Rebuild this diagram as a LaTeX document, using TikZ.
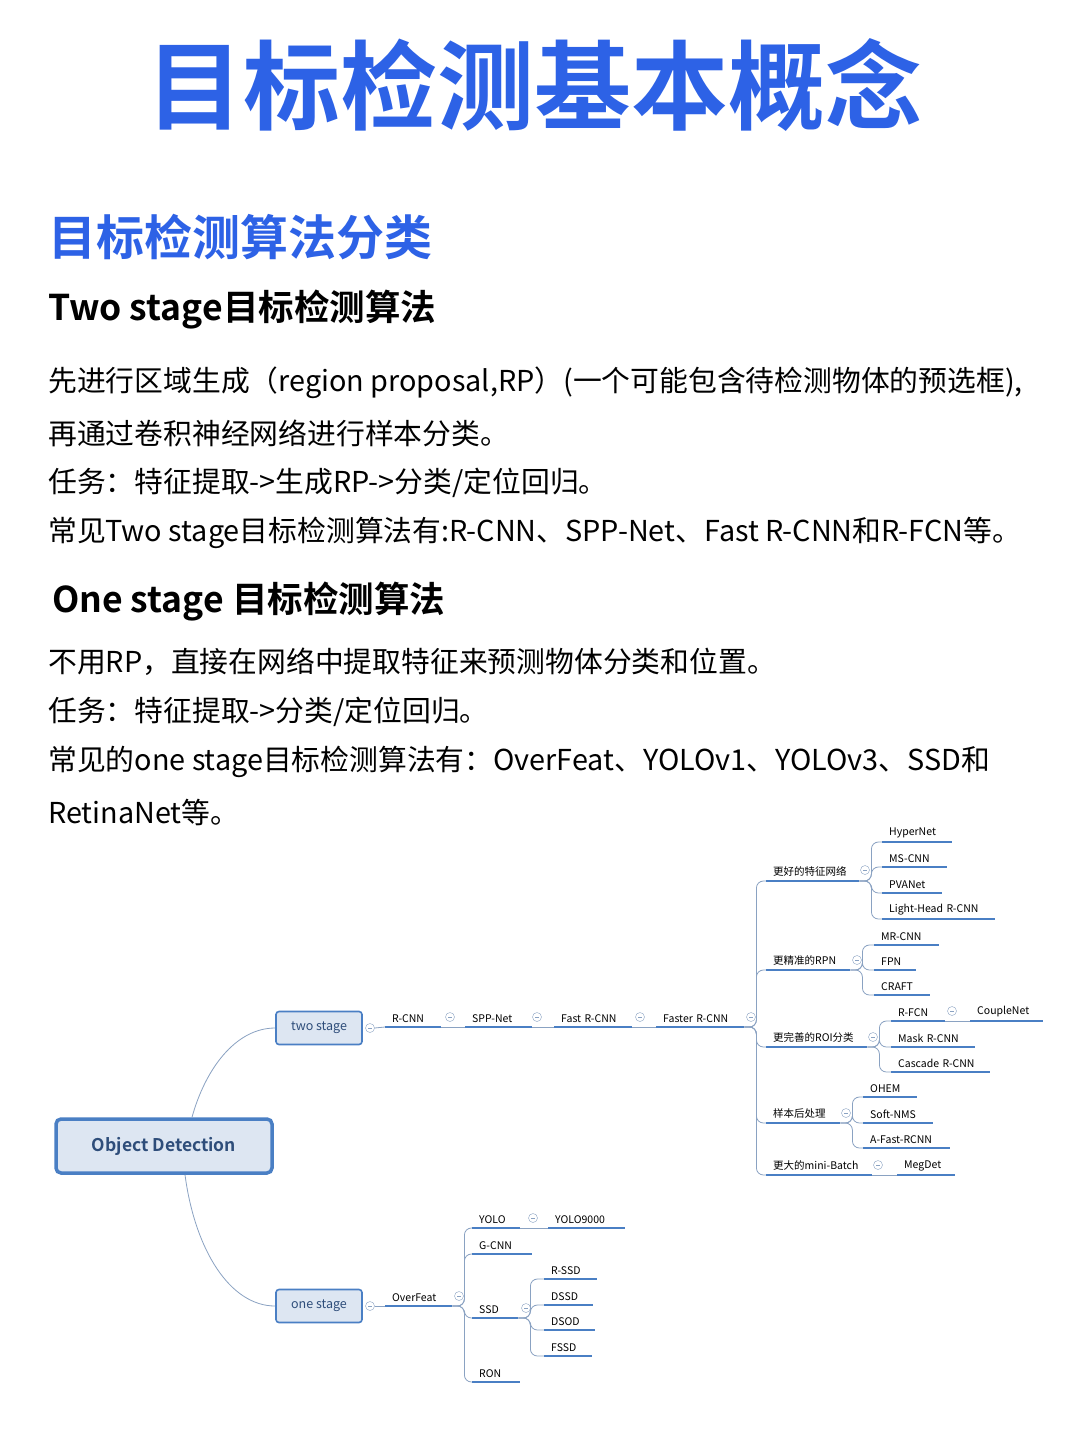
\documentclass[tikz,border=0pt]{standalone}
\usepackage{fontspec}
\setmainfont{Noto Sans CJK SC}[BoldFont={Noto Sans CJK SC Bold}]
\usetikzlibrary{positioning}
\definecolor{titleblue}{HTML}{2D62E6}
\definecolor{ulblue}{HTML}{4A7FC4}
\definecolor{linkgray}{HTML}{8AA2C2}
\definecolor{boxfill}{HTML}{DDE6F2}
\definecolor{rootink}{HTML}{2E4D7A}
\newcommand\fs[1]{\fontsize{#1}{#1}\selectfont}
% mind map item: name, x start, underline y, x end, text
\newcommand\mmitem[5]{%
  \node[item,text width=#4-#2-14] (#1) at (#2,#3) {#5};
  \draw[ul] (#1.south west) -- (#1.south east);}
\begin{document}
\begin{tikzpicture}[x=1pt,y=-1pt]
  \tikzstyle{para}=[anchor=west,inner sep=0pt,font=\fs{28.8}]
  \tikzstyle{item}=[anchor=south west,inner xsep=7pt,inner ysep=4pt,align=left,font=\fs{10.5}]
  \tikzstyle{ul}=[ulblue,line width=2.2pt]
  \tikzstyle{link}=[linkgray,line width=0.8pt,rounded corners=7pt]
  \tikzstyle{fold}=[circle,draw=linkgray,fill=white,minimum size=9pt,inner sep=0pt,
    path picture={\draw[linkgray,line width=0.6pt] ([xshift=-2pt]path picture bounding box.center) -- ([xshift=2pt]path picture bounding box.center);}]
  \tikzstyle{stage}=[draw=ulblue,line width=1.6pt,fill=boxfill,rounded corners=3pt,minimum width=86pt,minimum height=33pt,font=\fs{12.5},text=rootink]
  \useasboundingbox (0,0) rectangle (1080,1440);
  \fill[white] (0,0) rectangle (1080,1440);

  % headings and text
  \node[font=\fs{97}\bfseries,text=titleblue] (title) at (534,85) {目标检测基本概念};
  \node[anchor=west,inner sep=0pt,font=\fs{48}\bfseries,text=titleblue] (sub) at (48,237) {目标检测算法分类};
  \node[anchor=west,inner sep=0pt,font=\fs{35.5}\bfseries] (two-h) at (48,310) {Two stage目标检测算法};
  \node[para] (p1) at (48,383) {先进行区域生成（region proposal,RP）(一个可能包含待检测物体的预选框),};
  \node[para] (p2) at (48,433) {再通过卷积神经网络进行样本分类。};
  \node[para] (p3) at (48,483) {任务：特征提取->生成RP->分类/定位回归。};
  \node[para] (p4) at (48,533) {常见Two stage目标检测算法有:R-CNN、SPP-Net、Fast R-CNN和R-FCN等。};
  \node[anchor=west,inner sep=0pt,font=\fs{35.5}\bfseries] (one-h) at (52,602) {One stage 目标检测算法};
  \node[para] (q1) at (48,662) {不用RP，直接在网络中提取特征来预测物体分类和位置。};
  \node[para] (q2) at (48,712) {任务：特征提取->分类/定位回归。};
  \node[para] (q3) at (48,762) {常见的one stage目标检测算法有：OverFeat、YOLOv1、YOLOv3、SSD和};
  \node[para] (q4) at (48,812) {RetinaNet等。};

  % mind map
  \node[draw=ulblue,line width=3.5pt,fill=boxfill,rounded corners=5pt,minimum width=216pt,minimum height=54pt,
    font=\fs{17.5}\bfseries,text=rootink] (root) at (164,1146) {Object Detection};
  \node[stage] (two) at (319,1028) {two stage};
  \node[stage] (one) at (319,1306) {one stage};
  \node[fold] (two-f) at (370,1028) {};
  \node[fold] (one-f) at (370,1306) {};
  \draw[link] ([xshift=28pt]root.north) .. controls (205,1070) and (235,1028) .. (two.west);
  \draw[link] ([xshift=21pt]root.south) .. controls (195,1250) and (230,1306) .. (one.west);

  % two stage chain
  \mmitem{rcnn}{385}{1027}{441}{R-CNN}
  \mmitem{spp}{465}{1027}{532}{SPP-Net}
  \mmitem{fast}{554}{1027}{632}{Fast R-CNN}
  \mmitem{faster}{656}{1027}{744}{Faster R-CNN}
  \node[fold] at (450,1017) {};
  \node[fold] at (537,1017) {};
  \node[fold] at (640,1017) {};
  \node[fold] at (751,1017) {};
  \draw[link] (two-f.east) -- (rcnn.south west);
  \draw[link] (rcnn.south east) -- (spp.south west);
  \draw[link] (spp.south east) -- (fast.south west);
  \draw[link] (fast.south east) -- (faster.south west);

  \mmitem{feat}{766}{881}{859}{更好的特征网络}
  \mmitem{rpn}{766}{970}{850}{更精准的RPN}
  \mmitem{roi}{766}{1047}{867}{更完善的ROI分类}
  \mmitem{post}{766}{1123}{840}{样本后处理}
  \mmitem{batch}{766}{1175}{872}{更大的mini-Batch}
  \foreach \b in {feat,rpn,roi,post,batch}
    \draw[link] (faster.south east) -- ++(12,0) |- (\b.south west);
  \node[fold] at (865,870) {};
  \node[fold] at (857,960) {};
  \node[fold] at (873,1037) {};
  \node[fold] at (846,1113) {};
  \node[fold] at (878,1165) {};

  \mmitem{hyper}{882}{842}{952}{HyperNet}
  \mmitem{mscnn}{882}{867}{947}{MS-CNN}
  \mmitem{pva}{882}{893}{942}{PVANet}
  \mmitem{light}{882}{919}{995}{Light-Head R-CNN}
  \foreach \c in {hyper,mscnn,pva,light}
    \draw[link] (feat.south east) -- ++(12,0) |- (\c.south west);
  \mmitem{mrcnn}{874}{945}{939}{MR-CNN}
  \mmitem{fpn}{874}{970}{916}{FPN}
  \mmitem{craft}{874}{995}{930}{CRAFT}
  \foreach \c in {mrcnn,fpn,craft}
    \draw[link] (rpn.south east) -- ++(12,0) |- (\c.south west);
  \mmitem{rfcn}{891}{1021}{945}{R-FCN}
  \mmitem{mask}{891}{1047}{975}{Mask R-CNN}
  \mmitem{cascade}{891}{1072}{990}{Cascade R-CNN}
  \foreach \c in {rfcn,mask,cascade}
    \draw[link] (roi.south east) -- ++(12,0) |- (\c.south west);
  \mmitem{couple}{970}{1021}{1043}{CoupleNet}
  \node[fold] at (952,1011) {};
  \draw[link] (rfcn.south east) -- (couple.south west);
  \mmitem{ohem}{863}{1097}{917}{OHEM}
  \mmitem{soft}{863}{1123}{933}{Soft-NMS}
  \mmitem{afast}{863}{1148}{950}{A-Fast-RCNN}
  \foreach \c in {ohem,soft,afast}
    \draw[link] (post.south east) -- ++(12,0) |- (\c.south west);
  \mmitem{meg}{897}{1175}{955}{MegDet}
  \draw[link] (batch.south east) -- (meg.south west);

  % one stage tree
  \mmitem{over}{385}{1306}{452}{OverFeat}
  \node[fold] at (459,1296) {};
  \draw[link] (one-f.east) -- (over.south west);
  \mmitem{yolo}{472}{1228}{520}{YOLO}
  \mmitem{gcnn}{472}{1254}{532}{G-CNN}
  \mmitem{ssd}{472}{1318}{518}{SSD}
  \mmitem{ron}{472}{1382}{520}{RON}
  \foreach \c in {yolo,gcnn,ssd,ron}
    \draw[link] (over.south east) -- ++(12,0) |- (\c.south west);
  \mmitem{yolo9}{548}{1228}{625}{YOLO9000}
  \node[fold] at (533,1218) {};
  \draw[link] (yolo.south east) -- (yolo9.south west);
  \node[fold] at (526,1308) {};
  \mmitem{rssd}{544}{1279}{597}{R-SSD}
  \mmitem{dssd}{544}{1305}{593}{DSSD}
  \mmitem{dsod}{544}{1330}{595}{DSOD}
  \mmitem{fssd}{544}{1356}{592}{FSSD}
  \foreach \c in {rssd,dssd,dsod,fssd}
    \draw[link] (ssd.south east) -- ++(12,0) |- (\c.south west);
\end{tikzpicture}
\end{document}
